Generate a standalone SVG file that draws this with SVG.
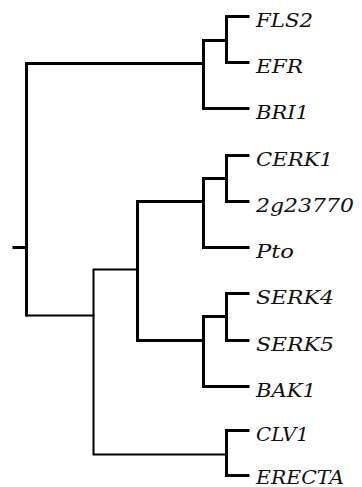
<svg xmlns="http://www.w3.org/2000/svg" width="362" height="487" viewBox="0 0 362 487">
<style>
.b{fill:none;stroke:#000;stroke-width:3;stroke-linejoin:miter;stroke-linecap:square}
.t{fill:none;stroke:#000;stroke-width:2;stroke-linejoin:miter;stroke-linecap:square}
.l{font-family:"DejaVu Serif","Liberation Serif",serif;font-style:italic;font-size:18px;fill:#111}
</style>
<rect width="362" height="487" fill="#fff"/>
<g id="connectors">
<path class="b" d="M14,247.5 H26.5"/>
<path class="b" d="M203.5,63.5 H26.5 V315"/>
<path class="t" d="M27,315.5 H93.5"/>
<path class="t" d="M137.5,269.5 H93.5 V454.5 H226.5"/>
<path class="b" d="M137.5,269.5 V201.5 H203.5"/>
<path class="b" d="M137.5,269.5 V340.5 H203.5"/>
<path class="b" d="M248,16.5 H226.5 V62.5 H248"/>
<path class="b" d="M226.5,40.5 H203.5 V108.5 H248"/>
<path class="b" d="M203.5,40.5 V63.5"/>
<path class="b" d="M248,155.5 H226.5 V201.5 H248"/>
<path class="b" d="M226.5,178.5 H203.5 V247.5 H248"/>
<path class="b" d="M248,293.5 H226.5 V340.5 H248"/>
<path class="b" d="M226.5,316.5 H203.5 V386.5 H248"/>
<path class="b" d="M248,430.5 H226.5 V475.5 H248"/>
</g>
<g id="FLS2"><text class="l" x="256" y="27" textLength="57" lengthAdjust="spacingAndGlyphs">FLS2</text></g>
<g id="EFR"><text class="l" x="256" y="73" textLength="47" lengthAdjust="spacingAndGlyphs">EFR</text></g>
<g id="BRI1"><text class="l" x="256" y="119" textLength="53" lengthAdjust="spacingAndGlyphs">BRI1</text></g>
<g id="CERK1"><text class="l" x="256" y="166" textLength="77" lengthAdjust="spacingAndGlyphs">CERK1</text></g>
<g id="g2g23770"><text class="l" x="256" y="212" textLength="98" lengthAdjust="spacingAndGlyphs">2g23770</text></g>
<g id="Pto"><text class="l" x="256" y="258" textLength="38" lengthAdjust="spacingAndGlyphs">Pto</text></g>
<g id="SERK4"><text class="l" x="256" y="304" textLength="78" lengthAdjust="spacingAndGlyphs">SERK4</text></g>
<g id="SERK5"><text class="l" x="256" y="351" textLength="78" lengthAdjust="spacingAndGlyphs">SERK5</text></g>
<g id="BAK1"><text class="l" x="256" y="397" textLength="60" lengthAdjust="spacingAndGlyphs">BAK1</text></g>
<g id="CLV1"><text class="l" x="256" y="441" textLength="53" lengthAdjust="spacingAndGlyphs">CLV1</text></g>
<g id="ERECTA"><text class="l" x="256" y="484" textLength="88" lengthAdjust="spacingAndGlyphs">ERECTA</text></g>
</svg>
